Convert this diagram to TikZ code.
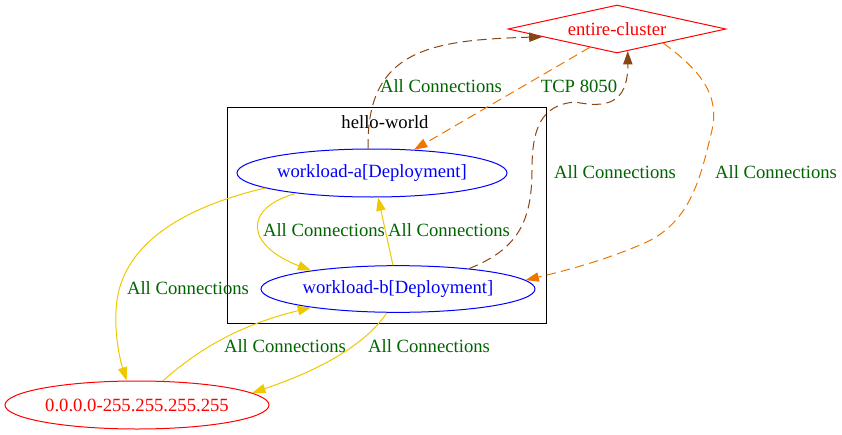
\documentclass[tikz,border=0pt]{standalone}
\usepackage{fontspec}
\setmainfont{Liberation Serif}
\usetikzlibrary{shapes.geometric,arrows.meta}
\definecolor{edgeyellow}{HTML}{EEC900}
\definecolor{edgebrown}{HTML}{8B4513}
\definecolor{edgeorange}{HTML}{EE7600}
\definecolor{lblgreen}{HTML}{006400}
\begin{document}
\begin{tikzpicture}[x=0.75pt,y=-0.75pt,
  font=\fontsize{14pt}{16pt}\selectfont,
  wl/.style={ellipse, draw=blue, text=blue, line width=0.75pt, inner sep=0pt},
  ipnode/.style={ellipse, draw=red, text=red, line width=0.75pt, inner sep=0pt},
  ecnode/.style={diamond, draw=red, text=red, line width=0.75pt, inner sep=0pt,
    shape aspect=4.5, minimum width=163.5pt, minimum height=36pt},
  lbl/.style={text=lblgreen, inner sep=0pt},
  conn/.style={line width=0.75pt, -{Triangle[length=10pt,width=7pt]}},
  yel/.style={conn, draw=edgeyellow},
  brownc/.style={conn, draw=edgebrown, dash pattern=on 7pt off 4pt},
  orangec/.style={conn, draw=edgeorange, dash pattern=on 7pt off 4pt}]
\useasboundingbox (0,0) rectangle (842,435);

% cluster
\node[draw, line width=0.75pt, inner sep=0pt, minimum width=239.25pt, minimum height=162pt] (hw) at (386.5,215) {};
\node[inner sep=0pt] (hwl) at (385,122) {hello-world};

% nodes
\node[ecnode] (ec) at (617,29) {entire-cluster};
\node[wl, minimum width=202.5pt, minimum height=36pt] (wa) at (372,173) {workload-a[Deployment]};
\node[wl, minimum width=205.5pt, minimum height=35pt] (wb) at (398,289) {workload-b[Deployment]};
\node[ipnode, minimum width=198pt, minimum height=36pt] (ip) at (137,405) {0.0.0.0-255.255.255.255};

% edges
\draw[brownc] (wa.99.5) .. controls (366,50) and (430,40) .. (ec.186);
\draw[orangec] (ec.-146) -- (wa.29);
\draw[brownc] (wb.16) .. controls (515,250) and (532,225) .. (532,170)
  .. controls (532,130) and (540,105) .. (575,102)
  .. controls (605,108) and (628,105) .. (ec.-64);
\draw[orangec] (ec.-17) .. controls (700,70) and (720,95) .. (712,130)
  .. controls (700,180) and (690,225) .. (640,245)
  .. controls (600,262) and (560,272) .. (wb.4.5);
\draw[yel] (wa.-165) .. controls (243,208) and (245,245) .. (wb.168);
\draw[yel] (wb.102) -- (wa.-76);
\draw[yel] (wa.-172) .. controls (180,208) and (125,245) .. (117,300)
  .. controls (113,330) and (120,360) .. (ip.113);
\draw[yel] (ip.43) .. controls (200,348) and (240,325) .. (wb.-168);
\draw[yel] (wb.-115) .. controls (365,345) and (320,370) .. (ip.6);

% labels
\node[lbl] (l1) at (441,86) {All Connections};
\node[lbl] (l2) at (579,86) {TCP 8050};
\node[lbl] (l3) at (615,172) {All Connections};
\node[lbl] (l4) at (776,172) {All Connections};
\node[lbl] (l5) at (324,230) {All Connections};
\node[lbl] (l6) at (449,230) {All Connections};
\node[lbl] (l7) at (188,288) {All Connections};
\node[lbl] (l8) at (285,346) {All Connections};
\node[lbl] (l9) at (429,346) {All Connections};
\end{tikzpicture}
\end{document}
